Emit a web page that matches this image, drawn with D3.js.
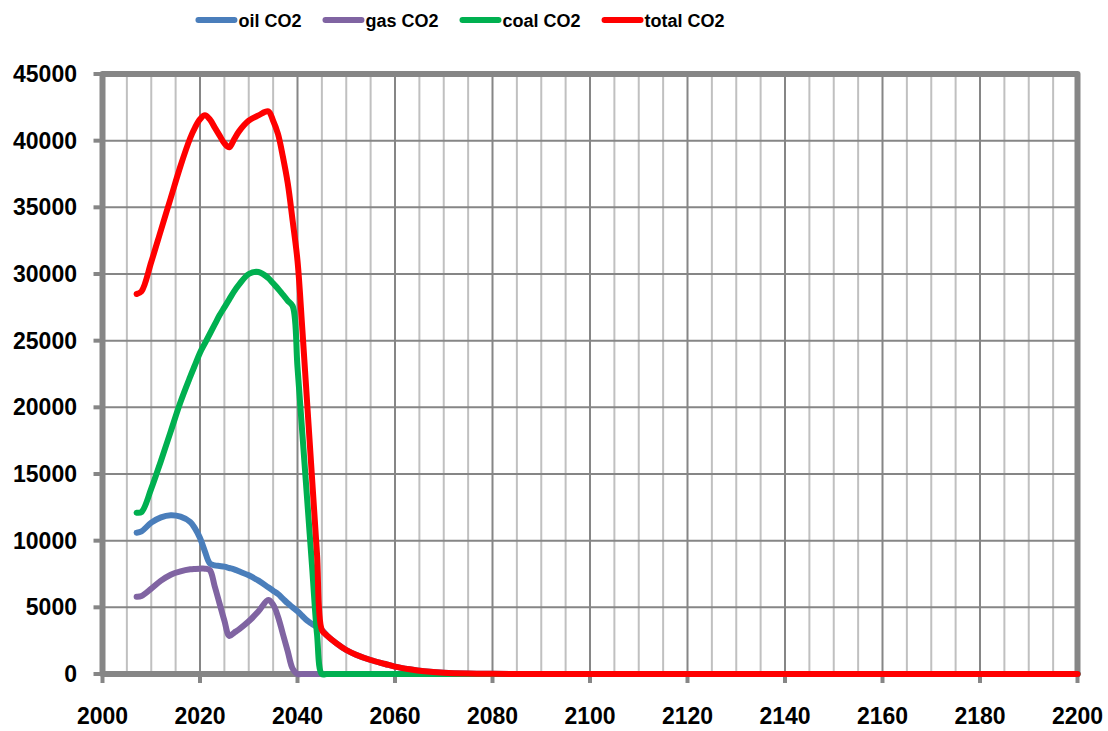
<!DOCTYPE html>
<html>
<head>
<meta charset="utf-8">
<script src="https://cdn.jsdelivr.net/npm/d3@7"></script>
<style>
  body { margin: 0; background: #fff; }
  svg { display: block; font-family: "Liberation Sans", Arial, sans-serif; font-weight: bold; }
</style>
</head>
<body>
<svg id="chart" width="1108" height="731"></svg>
<script>
// data
var years = [2007, 2008, 2010, 2012, 2014, 2016, 2018, 2019, 2020, 2021, 2022, 2023, 2024, 2025, 2026, 2027, 2028, 2030, 2032, 2034, 2035, 2036, 2037, 2038, 2039, 2040, 2041, 2042, 2043, 2044, 2045, 2046, 2048, 2050, 2052, 2055, 2058, 2060, 2063, 2066, 2070, 2075, 2080, 2090, 2100, 2125, 2150, 2175, 2200];

var oilCO2 = [10600, 10700, 11350, 11750, 11900, 11800, 11400, 10900, 10200, 9200, 8300, 8150, 8100, 8050, 7950, 7850, 7700, 7400, 7000, 6500, 6250, 6000, 5650, 5300, 5000, 4700, 4350, 4000, 3750, 3500, 3300, 2900, 2300, 1800, 1450, 1050, 750, 550, 350, 200, 90, 30, 10, 0, 0, 0, 0, 0, 0];

var gasCO2 = [5800, 5850, 6400, 7000, 7450, 7700, 7850, 7880, 7900, 7900, 7800, 6600, 5300, 4000, 2850, 3100, 3350, 3950, 4700, 5550, 5200, 4300, 3000, 1700, 400, 0, 0, 0, 0, 0, 0, 0, 0, 0, 0, 0, 0, 0, 0, 0, 0, 0, 0, 0, 0, 0, 0, 0, 0];

var coalCO2 = [12100, 12150, 13900, 16000, 18200, 20400, 22300, 23200, 24100, 24800, 25500, 26200, 26900, 27500, 28100, 28700, 29200, 30000, 30150, 29700, 29300, 28900, 28450, 28000, 27600, 23000, 18000, 13000, 8000, 3000, 0, 0, 0, 0, 0, 0, 0, 0, 0, 0, 0, 0, 0, 0, 0, 0, 0, 0, 0];

var totalCO2 = [28500, 28700, 30900, 33300, 35700, 38100, 40200, 41000, 41600, 41900, 41600, 41000, 40400, 39800, 39500, 40100, 40700, 41500, 41900, 42200, 41500, 40500, 38800, 36800, 34000, 31000, 25800, 20200, 14600, 9000, 3300, 2900, 2300, 1800, 1450, 1050, 750, 550, 350, 200, 90, 30, 10, 0, 0, 0, 0, 0, 0];

var xTickLabels = [2000, 2020, 2040, 2060, 2080, 2100, 2120, 2140, 2160, 2180, 2200];
var yTickLabels = [0, 5000, 10000, 15000, 20000, 25000, 30000, 35000, 40000, 45000];

var seriesNames = ["oil CO2", "gas CO2", "coal CO2", "total CO2"];
var seriesColors = ["#4a7ebb", "#8064a2", "#00b050", "#ff0000"];
var seriesValues = [oilCO2, gasCO2, coalCO2, totalCO2];

var svg = d3.select("#chart");
var plotLeft = 102.5, plotRight = 1077.5, plotTop = 74, plotBottom = 674;
var axisGray = "#868686";

var x = d3.scaleLinear().domain([2000, 2200]).range([plotLeft, plotRight]);
var y = d3.scaleLinear().domain([0, 45000]).range([plotBottom, plotTop]);

// minor vertical grid, every 5 years
svg.append("g").selectAll("line")
    .data(x.ticks(40).filter(t => t % 20 !== 0))
    .join("line")
    .attr("x1", d => x(d)).attr("x2", d => x(d))
    .attr("y1", plotTop).attr("y2", plotBottom)
    .attr("stroke", "#c0c0c0").attr("stroke-width", 2);

// major vertical grid
svg.append("g").selectAll("line")
    .data(xTickLabels)
    .join("line")
    .attr("x1", d => x(d)).attr("x2", d => x(d))
    .attr("y1", plotTop).attr("y2", plotBottom)
    .attr("stroke", axisGray).attr("stroke-width", 2);

// horizontal grid
svg.append("g").selectAll("line")
    .data(yTickLabels)
    .join("line")
    .attr("x1", plotLeft).attr("x2", plotRight)
    .attr("y1", d => y(d)).attr("y2", d => y(d))
    .attr("stroke", axisGray).attr("stroke-width", 2);

// tick marks
svg.append("g").selectAll("line")
    .data(yTickLabels)
    .join("line")
    .attr("x1", plotLeft - 9).attr("x2", plotLeft)
    .attr("y1", d => y(d)).attr("y2", d => y(d))
    .attr("stroke", axisGray).attr("stroke-width", 4);

svg.append("g").selectAll("line")
    .data(xTickLabels)
    .join("line")
    .attr("x1", d => x(d)).attr("x2", d => x(d))
    .attr("y1", plotBottom).attr("y2", plotBottom + 9)
    .attr("stroke", axisGray).attr("stroke-width", 4);

// frame
svg.append("rect")
    .attr("x", plotLeft).attr("y", plotTop)
    .attr("width", plotRight - plotLeft).attr("height", plotBottom - plotTop)
    .attr("fill", "none")
    .attr("stroke", axisGray).attr("stroke-width", 6)
    .attr("stroke-linejoin", "round");

// tick labels
svg.append("g").selectAll("text")
    .data(yTickLabels)
    .join("text")
    .attr("x", 77).attr("y", d => y(d) + 8)
    .attr("text-anchor", "end")
    .attr("font-size", 23)
    .text(d => d);

svg.append("g").selectAll("text")
    .data(xTickLabels)
    .join("text")
    .attr("x", d => x(d)).attr("y", 724)
    .attr("text-anchor", "middle")
    .attr("font-size", 23)
    .text(d => d);

// series, smoothed like the spreadsheet lines
var line = d3.line()
    .x((d, i) => x(years[i]))
    .y(d => y(d))
    .curve(d3.curveCatmullRom.alpha(0.5));

svg.append("g").selectAll("path")
    .data(seriesValues)
    .join("path")
    .attr("d", d => line(d))
    .attr("fill", "none")
    .attr("stroke", (d, i) => seriesColors[i])
    .attr("stroke-width", 6)
    .attr("stroke-linecap", "round")
    .attr("stroke-linejoin", "round");

// legend
var legend = svg.append("g");
var lx = 0;
seriesNames.forEach(function (name, i) {
    var item = legend.append("g").attr("transform", "translate(" + lx + ",0)");
    item.append("line")
        .attr("x1", 3).attr("x2", 39)
        .attr("y1", 20).attr("y2", 20)
        .attr("stroke", seriesColors[i]).attr("stroke-width", 6)
        .attr("stroke-linecap", "round");
    var t = item.append("text")
        .attr("x", 43).attr("y", 27)
        .attr("font-size", 18)
        .text(name);
    lx += 43 + t.node().getComputedTextLength() + 21;
});
legend.attr("transform", "translate(" + (460 - (lx - 21) / 2) + ",0)");
</script>
</body>
</html>
